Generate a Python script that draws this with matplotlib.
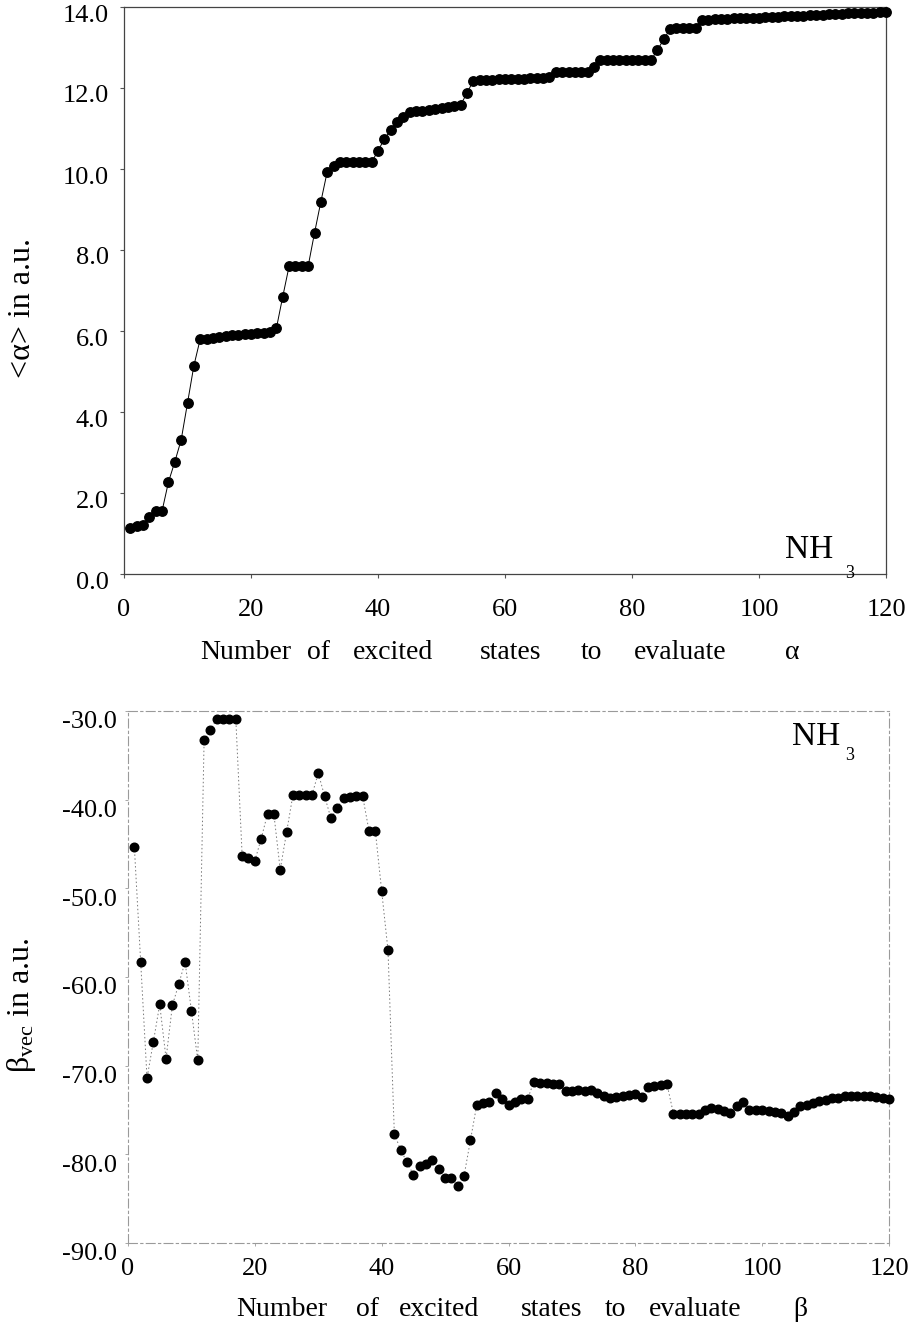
import matplotlib
matplotlib.use('Agg')
import matplotlib.pyplot as plt
from matplotlib.transforms import ScaledTranslation

plt.rcParams['font.family'] = ['Liberation Serif', 'DejaVu Serif']
plt.rcParams['mathtext.fontset'] = 'custom'
plt.rcParams['mathtext.rm'] = 'Liberation Serif'
plt.rcParams['mathtext.it'] = 'Liberation Serif:italic'

# ---------------- data ----------------
n_states = list(range(1, 121))

alpha_mean = [
    1.13, 1.19, 1.21, 1.41, 1.56, 1.56, 2.27, 2.77, 3.31, 4.22, 5.14,
    5.80, 5.81, 5.82, 5.84, 5.87, 5.89, 5.91, 5.92, 5.93, 5.94, 5.96, 5.98, 6.07,
    6.85, 7.60, 7.60, 7.60, 7.60, 8.42, 9.19, 9.93, 10.08,
    10.17, 10.17, 10.17, 10.17, 10.17, 10.17,
    10.45, 10.74, 10.96, 11.17, 11.29,
    11.41, 11.42, 11.43, 11.45, 11.47, 11.50, 11.53, 11.56, 11.58,
    11.87,
    12.18, 12.19, 12.19, 12.20, 12.21, 12.21, 12.22, 12.23, 12.23, 12.24, 12.25, 12.25, 12.26,
    12.40, 12.40, 12.40, 12.40, 12.40, 12.40,
    12.53,
    12.69, 12.69, 12.69, 12.69, 12.69, 12.69, 12.69, 12.69, 12.69,
    12.94, 13.20,
    13.46, 13.47, 13.48, 13.48, 13.49,
    13.68, 13.69, 13.70, 13.70, 13.71, 13.72, 13.72, 13.73, 13.74, 13.74,
    13.75, 13.76, 13.76, 13.77, 13.78, 13.78, 13.79, 13.80, 13.80, 13.81,
    13.82, 13.82, 13.83, 13.84, 13.84, 13.85, 13.86, 13.86, 13.87, 13.88,
]

beta_vec = [
    -45.3, -58.3, -71.4, -67.3, -63.1, -69.2, -63.2, -60.8, -58.3, -63.8,
    -69.4, -33.3, -32.1, -30.9, -30.9, -30.9, -30.9, -46.3, -46.6, -46.9,
    -44.4, -41.6, -41.6, -47.9, -43.7, -39.5, -39.5, -39.5, -39.5, -37.0,
    -39.6, -42.1, -40.9, -39.8, -39.7, -39.6, -39.6, -43.5, -43.5, -50.3,
    -57.0, -77.7, -79.5, -80.9, -82.3, -81.3, -81.1, -80.6, -81.7, -82.7,
    -82.7, -83.6, -82.4, -78.4, -74.4, -74.2, -74.1, -73.1, -73.8, -74.4,
    -74.1, -73.8, -73.8, -71.8, -71.9, -72.0, -72.1, -72.1, -72.9, -72.9,
    -72.8, -72.9, -72.8, -73.1, -73.4, -73.6, -73.5, -73.4, -73.3, -73.2,
    -73.5, -72.4, -72.3, -72.2, -72.1, -75.4, -75.4, -75.4, -75.4, -75.5,
    -75.0, -74.8, -74.9, -75.1, -75.3, -74.6, -74.1, -75.0, -75.0, -75.0,
    -75.1, -75.2, -75.3, -75.7, -75.2, -74.6, -74.4, -74.2, -74.0, -73.9,
    -73.7, -73.6, -73.4, -73.4, -73.4, -73.4, -73.4, -73.5, -73.6, -73.8,
]

x_ticks = [0, 20, 40, 60, 80, 100, 120]
x_tick_labels = ['0', '20', '40', '60', '80', '100', '120']
alpha_ticks = [0, 2, 4, 6, 8, 10, 12, 14]
alpha_tick_labels = ['0.0', '2.0', '4.0', '6.0', '8.0', '10.0', '12.0', '14.0']
beta_ticks = [-90, -80, -70, -60, -50, -40, -30]
beta_tick_labels = ['-90.0', '-80.0', '-70.0', '-60.0', '-50.0', '-40.0', '-30.0']

top_xlabel_words = ['Number', 'of', 'excited', 'states', 'to', 'evaluate', 'α']
top_xlabel_px = [246, 318, 393, 511, 591, 680, 792]
bot_xlabel_words = ['Number', 'of', 'excited', 'states', 'to', 'evaluate', 'β']
bot_xlabel_px = [282, 367, 439, 552, 615, 695, 800]

# ---------------- figure ----------------
W, H = 921, 1328
fig = plt.figure(figsize=(W / 100, H / 100), dpi=100)
fig.patch.set_facecolor('white')


def fx(px):
    return px / W


def fy(py):
    return 1 - py / H


TICK_FS = 19

# ---- top panel ----
ax1 = fig.add_axes([fx(124), fy(574), fx(886 - 124), (574 - 7) / H])
ax1.plot(n_states, alpha_mean, color='black', lw=0.7, marker='o',
         markersize=6.8, markerfacecolor='black', markeredgecolor='black',
         clip_on=False, zorder=3)
ax1.set_xlim(0, 120)
ax1.set_ylim(0, 14)
ax1.set_xticks(x_ticks)
ax1.set_xticklabels(x_tick_labels)
ax1.set_yticks(alpha_ticks)
ax1.set_yticklabels(alpha_tick_labels)
for s in ax1.spines.values():
    s.set_color('#444444')
    s.set_linewidth(0.9)
ax1.tick_params(axis='both', direction='out', length=3, width=0.8,
                color='#555555', labelsize=TICK_FS)
ax1.tick_params(axis='x', pad=15)
ax1.tick_params(axis='y', pad=8)
for lab in ax1.get_yticklabels():
    lab.set_transform(lab.get_transform() +
                      ScaledTranslation(0, -6 / 100, fig.dpi_scale_trans))

for w, px in zip(top_xlabel_words, top_xlabel_px):
    fig.text(fx(px), fy(659), w, ha='center', va='baseline', fontsize=20)

fig.text(fx(22), fy(308), '<α> in a.u.', rotation=90, ha='center',
         va='center', fontsize=23)

fig.text(fx(785), fy(558), 'NH', ha='left', va='baseline', fontsize=24)
fig.text(fx(845), fy(578), '3', ha='left', va='baseline', fontsize=13)

# ---- bottom panel ----
ax2 = fig.add_axes([fx(128), fy(1243), fx(889 - 128), (1243 - 711) / H])
ax2.plot(n_states, beta_vec, color='#777777', lw=0.7, ls=(0, (1.5, 2.5)),
         marker='o', markersize=6.2, markerfacecolor='black',
         markeredgecolor='black', clip_on=False, zorder=3)
ax2.set_xlim(0, 120)
ax2.set_ylim(-90, -30)
ax2.set_xticks(x_ticks)
ax2.set_xticklabels(x_tick_labels)
ax2.set_yticks(beta_ticks)
ax2.set_yticklabels(beta_tick_labels)
for s in ax2.spines.values():
    s.set_color('#9a9a9a')
    s.set_linewidth(0.8)
    s.set_linestyle((0, (8, 3, 2, 3)))
ax2.tick_params(axis='both', direction='out', length=2, width=0.6,
                color='#999999', labelsize=TICK_FS)
ax2.tick_params(axis='x', pad=9)
ax2.tick_params(axis='y', pad=6)
for lab in ax2.get_yticklabels():
    lab.set_transform(lab.get_transform() +
                      ScaledTranslation(0, -9 / 100, fig.dpi_scale_trans))

for w, px in zip(bot_xlabel_words, bot_xlabel_px):
    fig.text(fx(px), fy(1316), w, ha='center', va='baseline', fontsize=20)

fig.text(fx(21), fy(1005), r'$\mathrm{\beta_{vec}}$ in a.u.', rotation=90,
         ha='center', va='center', fontsize=23)

fig.text(fx(792), fy(745), 'NH', ha='left', va='baseline', fontsize=24)
fig.text(fx(845), fy(760), '3', ha='left', va='baseline', fontsize=13)

fig.savefig('out.png', dpi=100, facecolor='white')
